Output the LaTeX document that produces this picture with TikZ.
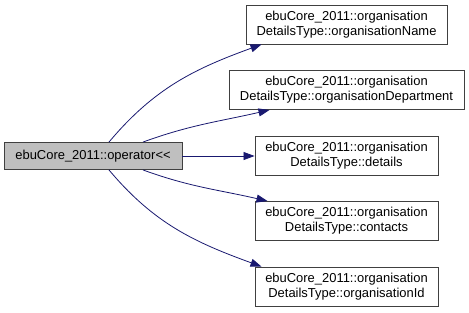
\documentclass[tikz,border=0pt]{standalone}
\usepackage{fontspec}
\setmainfont{Liberation Sans}
\usetikzlibrary{arrows.meta}

\definecolor{edgeblue}{HTML}{191970}
\definecolor{opgray}{HTML}{BFBFBF}
\definecolor{boxline}{HTML}{404040}

\begin{document}
\begin{tikzpicture}[x=1bp, y=-1bp,
      member/.style={draw=boxline, line width=0.9bp, fill=white, align=center, inner sep=0pt,
                     minimum height=39bp, font=\fontsize{13}{15}\selectfont},
      call/.style={draw=edgeblue, line width=0.8bp, -{Triangle[length=11bp, width=8bp]}}]
            \useasboundingbox (0,0) rectangle (469,312); % page size

            \node [member, fill=opgray, minimum width=178bp, minimum height=27bp] (op) at (93,156) {ebuCore\_2011::operator<{}<}; % the caller

            % the five members it calls, one above the other
            \node [member, minimum width=201bp] (name) at (346.5,24.5) {ebuCore\_2011::organisation\\DetailsType::organisationName};
            \node [member, minimum width=235bp] (dept) at (346.5,90) {ebuCore\_2011::organisation\\DetailsType::organisationDepartment};
            \node [member, minimum width=183bp] (details) at (346.5,156) {ebuCore\_2011::organisation\\DetailsType::details};
            \node [member, minimum width=183bp] (contacts) at (346.5,221) {ebuCore\_2011::organisation\\DetailsType::contacts};
            \node [member, minimum width=183bp] (orgid) at (346.5,286.5) {ebuCore\_2011::organisation\\DetailsType::organisationId};

            \draw [call] ([xshift=16bp]op.north) to [out=50, in=200] ([xshift=-85bp]name.south); % curved up to the top box
            \draw [call] ([xshift=50bp]op.north) to [out=20, in=193] ([xshift=-77bp]dept.south);
            \draw [call] (op.east) -- (details.west);
            \draw [call] ([xshift=50bp]op.south) to [out=-20, in=167] ([xshift=-79bp]contacts.north);
            \draw [call] ([xshift=16bp]op.south) to [out=-50, in=160] ([xshift=-85bp]orgid.north); % curved down to the last box
      \end{tikzpicture}
\end{document}
